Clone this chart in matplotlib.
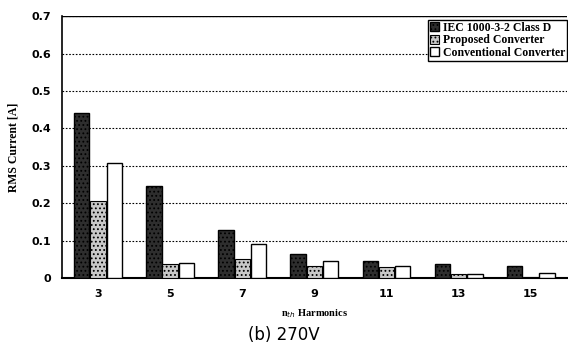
import matplotlib
matplotlib.use("Agg")
import matplotlib.pyplot as plt
import numpy as np

harmonics = ["3", "5", "7", "9", "11", "13", "15"]
iec = [0.44, 0.245, 0.128, 0.065, 0.045, 0.038, 0.033]
proposed = [0.205, 0.038, 0.050, 0.033, 0.030, 0.010, 0.003]
conventional = [0.307, 0.040, 0.092, 0.045, 0.032, 0.012, 0.013]
series_names = ["IEC 1000-3-2 Class D", "Proposed Converter", "Conventional Converter"]

plt.rcParams['hatch.color'] = '#777777'
plt.rcParams['hatch.linewidth'] = 0.8

fig = plt.figure(figsize=(5.68, 3.51), dpi=100)
ax = fig.add_axes([0.109, 0.208, 0.889, 0.746])

x = np.arange(len(harmonics))
w = 0.225
serif = "Liberation Serif"
ax.bar(x - w, iec, w * 0.95, facecolor="#2e2e2e", edgecolor="black", hatch="....", linewidth=1.0,
       label=series_names[0], zorder=3)
ax.bar(x, proposed, w * 0.95, facecolor="#c8c8c8", edgecolor="black", hatch="....", linewidth=0.8,
       label=series_names[1], zorder=3)
ax.bar(x + w, conventional, w * 0.95, facecolor="white", edgecolor="black", linewidth=1.0,
       label=series_names[2], zorder=3)

ax.set_xlim(-0.5, len(harmonics) - 0.5)
ax.set_ylim(0, 0.7)
ax.set_yticks(np.arange(0, 0.71, 0.1))
ax.set_yticklabels(["0", "0.1", "0.2", "0.3", "0.4", "0.5", "0.6", "0.7"],
                   fontfamily="DejaVu Sans", fontweight="bold", fontsize=8)
ax.set_xticks(x)
ax.set_xticklabels(harmonics, fontfamily="DejaVu Sans", fontweight="bold", fontsize=8)
ax.tick_params(axis="both", length=0, pad=8)
ax.yaxis.grid(True, linestyle=(0, (1.5, 1.5)), color="black", linewidth=0.8, zorder=0)
for s in ["top", "right"]:
    ax.spines[s].set_visible(False)
ax.spines["left"].set_linewidth(1.2)
ax.spines["bottom"].set_linewidth(1.5)
ax.axhline(0.7, color="black", linewidth=1.0)

ax.set_ylabel("RMS Current [A]", fontfamily=serif, fontweight="bold", fontsize=8.5, labelpad=8)
ax.set_xlabel("n$_{th}$ Harmonics", fontfamily=serif, fontweight="bold", fontsize=7.5, labelpad=6)

leg = ax.legend(loc="upper right", bbox_to_anchor=(1.0, 0.985), prop={"family": serif, "weight": "bold", "size": 8.5},
                frameon=True, fancybox=False, edgecolor="black", framealpha=1,
                handlelength=0.8, handleheight=0.8, handletextpad=0.3, borderpad=0.15,
                labelspacing=0.05, borderaxespad=0.0)
leg.get_frame().set_linewidth(1.0)

fig.text(0.5, 0.045, "(b) 270V", ha="center", va="center", fontsize=12, fontfamily="DejaVu Sans")

fig.savefig("out.png", dpi=100)
